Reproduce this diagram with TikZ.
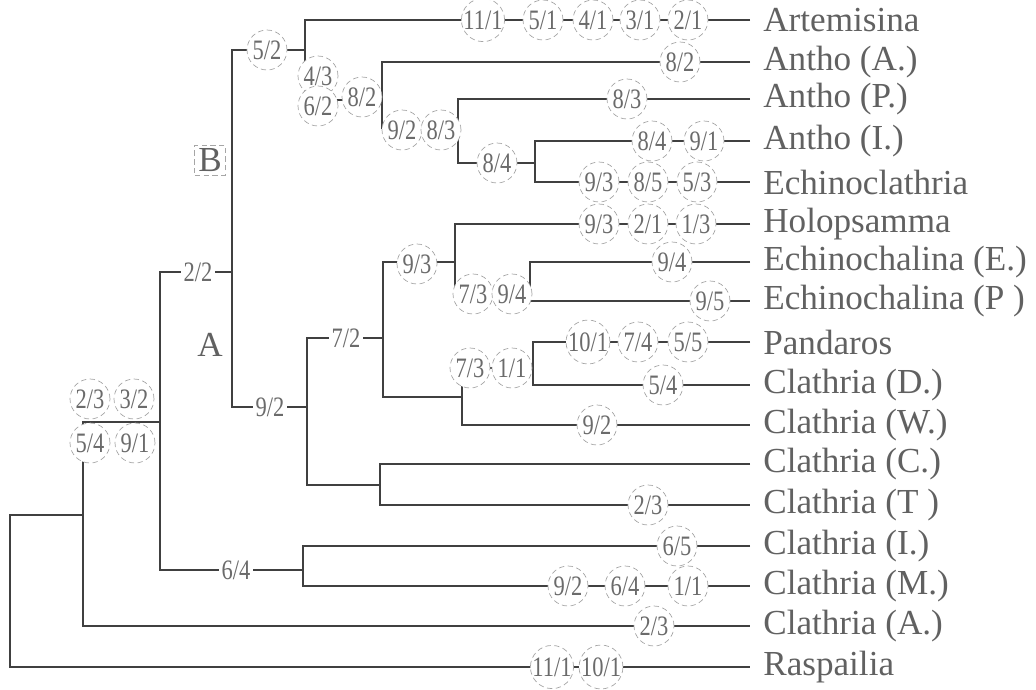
\documentclass[tikz,border=0pt]{standalone}
\usepackage{fontspec}
\setmainfont{Liberation Serif}
\newfontfamily\charfont[FakeStretch=0.8]{Liberation Serif}
\colorlet{branchgray}{black!75}
\colorlet{taxongray}{black!62}
\colorlet{chargray}{black!58}
\colorlet{ringgray}{black!35}
\tikzset{
  branch/.style={line width=1.6pt, draw=branchgray},
  leaf/.style={anchor=west, inner xsep=0.26cm, inner ysep=0.1cm, text=taxongray, font=\fontsize{20}{22}\selectfont},
  chr/.style={circle, draw=ringgray, densely dashed, fill=white, inner sep=0pt, minimum size=0.8cm, text height=10.5pt, text depth=0pt, text=chargray, font=\charfont\fontsize{16}{18}\selectfont},
  chrplain/.style={fill=white, inner sep=1.5pt, text=chargray, font=\charfont\fontsize{16}{18}\selectfont},
  cladetag/.style={inner sep=2pt, text=taxongray, font=\fontsize{20}{22}\selectfont},
  cladebox/.style={cladetag, draw=ringgray, densely dashed}
}
\begin{document}
\begin{tikzpicture}[x=0.02cm, y=-0.02cm]
  \useasboundingbox (0,0) rectangle (1036,690);
  \node[leaf] (art) at (750,20) {Artemisina};
  \node[leaf] (anA) at (750,62) {Antho (A.)};
  \node[leaf] (anP) at (750,99) {Antho (P.)};
  \node[leaf] (anI) at (750,141) {Antho (I.)};
  \node[leaf] (ech) at (750,182) {Echinoclathria};
  \node[leaf] (hol) at (750,224) {Holopsamma};
  \node[leaf] (ecE) at (750,262) {Echinochalina (E.)};
  \node[leaf] (ecP) at (750,301) {Echinochalina (P )};
  \node[leaf] (pan) at (750,342) {Pandaros};
  \node[leaf] (clD) at (750,385) {Clathria (D.)};
  \node[leaf] (clW) at (750,425) {Clathria (W.)};
  \node[leaf] (clC) at (750,464) {Clathria (C.)};
  \node[leaf] (clT) at (750,505) {Clathria (T )};
  \node[leaf] (clI) at (750,546) {Clathria (I.)};
  \node[leaf] (clM) at (750,586) {Clathria (M.)};
  \node[leaf] (clA) at (750,626) {Clathria (A.)};
  \node[leaf] (ras) at (750,667) {Raspailia};

  \coordinate (root) at (10,600);
  \coordinate (n1) at (83,515);
  \coordinate (n2) at (160,422);
  \coordinate (n3) at (232,272);
  \coordinate (nCI) at (303,570);
  \coordinate (nB) at (305,50);
  \coordinate (n5) at (382,100);
  \coordinate (n6) at (458,128);
  \coordinate (n7) at (535,163);
  \coordinate (nA) at (307,407);
  \coordinate (n8) at (383,338);
  \coordinate (nCT) at (380,485);
  \coordinate (n11) at (455,262);
  \coordinate (n12) at (530,294);
  \coordinate (n9) at (462,397);
  \coordinate (n10) at (533,368);

  \draw[branch] (n1) -| (root) |- (ras.west);
  \draw[branch] (n2) -| (n1) |- (clA.west);
  \draw[branch] (n3) -| (n2) |- (nCI);
  \draw[branch] (clI.west) -| (nCI) |- (clM.west);
  \draw[branch] (nB) -| (n3) |- (nA);
  \draw[branch] (art.west) -| (nB) |- (n5);
  \draw[branch] (anA.west) -| (n5) |- (n6);
  \draw[branch] (anP.west) -| (n6) |- (n7);
  \draw[branch] (anI.west) -| (n7) |- (ech.west);
  \draw[branch] (n8) -| (nA) |- (nCT);
  \draw[branch] (clC.west) -| (nCT) |- (clT.west);
  \draw[branch] (n11) -| (n8) |- (n9);
  \draw[branch] (hol.west) -| (n11) |- (n12);
  \draw[branch] (ecE.west) -| (n12) |- (ecP.west);
  \draw[branch] (n10) -| (n9) |- (clW.west);
  \draw[branch] (pan.west) -| (n10) |- (clD.west);

  \node[chr] (b52) at (267,50) {5/2};
  \node[chr] (b43) at (318,76) {4/3};
  \node[chr] (b62) at (318,106) {6/2};
  \node[chr] (b82) at (362,97) {8/2};
  \node[chr] (b92) at (402,130) {9/2};
  \node[chr] (b83) at (441,130) {8/3};
  \node[chr] (b84) at (497,163) {8/4};
  \node[chr] (b93) at (417,264) {9/3};
  \node[chr] (b73) at (473,294) {7/3};
  \node[chr] (b94) at (512,294) {9/4};
  \node[chr] (c73) at (470,368) {7/3};
  \node[chr] (c11) at (512,368) {1/1};
  \node[chr] (b23) at (90,399) {2/3};
  \node[chr] (b32) at (134,399) {3/2};
  \node[chr] (b54) at (90,443) {5/4};
  \node[chr] (b91) at (135,443) {9/1};
  \node[chrplain] (p22) at (198,272) {2/2};
  \node[chrplain] (p92) at (270,407) {9/2};
  \node[chrplain] (p72) at (346,338) {7/2};
  \node[chrplain] (p64) at (236,570) {6/4};

  \node[chr] (art1) at (483,20) {11/1};
  \node[chr] (art2) at (543,20) {5/1};
  \node[chr] (art3) at (593,20) {4/1};
  \node[chr] (art4) at (640,20) {3/1};
  \node[chr] (art5) at (688,20) {2/1};
  \node[chr] (anA1) at (680,62) {8/2};
  \node[chr] (anP1) at (627,99) {8/3};
  \node[chr] (anI1) at (652,141) {8/4};
  \node[chr] (anI2) at (704,141) {9/1};
  \node[chr] (ech1) at (599,182) {9/3};
  \node[chr] (ech2) at (648,182) {8/5};
  \node[chr] (ech3) at (697,182) {5/3};
  \node[chr] (hol1) at (599,224) {9/3};
  \node[chr] (hol2) at (648,224) {2/1};
  \node[chr] (hol3) at (696,224) {1/3};
  \node[chr] (ecE1) at (672,262) {9/4};
  \node[chr] (ecP1) at (710,301) {9/5};
  \node[chr] (pan1) at (588,342) {10/1};
  \node[chr] (pan2) at (638,342) {7/4};
  \node[chr] (pan3) at (688,342) {5/5};
  \node[chr] (clD1) at (663,385) {5/4};
  \node[chr] (clW1) at (597,425) {9/2};
  \node[chr] (clT1) at (648,505) {2/3};
  \node[chr] (clI1) at (677,546) {6/5};
  \node[chr] (clM1) at (568,586) {9/2};
  \node[chr] (clM2) at (625,586) {6/4};
  \node[chr] (clM3) at (688,586) {1/1};
  \node[chr] (clA1) at (654,626) {2/3};
  \node[chr] (ras1) at (552,667) {11/1};
  \node[chr] (ras2) at (601,667) {10/1};

  \node[cladebox] (cladeB) at (210,160) {B};
  \node[cladetag] (cladeA) at (210,345) {A};
\end{tikzpicture}
\end{document}
